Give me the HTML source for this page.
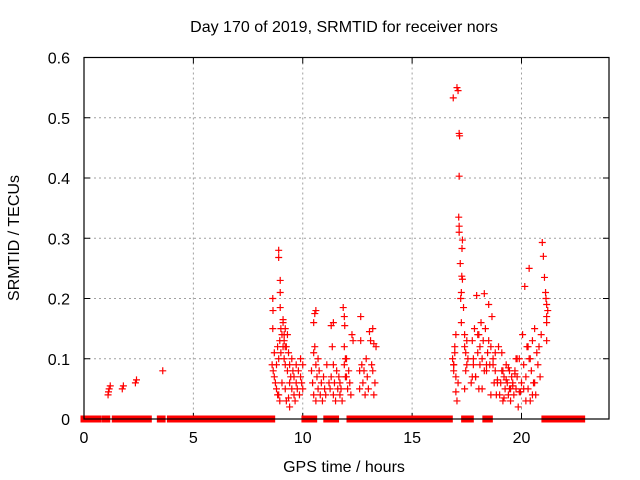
<!DOCTYPE html>
<html><head><meta charset="utf-8"><style>
body{margin:0;background:#fff}
svg{display:block;font-family:"Liberation Sans",sans-serif}
</style></head><body>
<svg id="c" width="640" height="480" xmlns="http://www.w3.org/2000/svg">
<text x="344" y="32" text-anchor="middle" font-size="16">Day 170 of 2019, SRMTID for receiver nors</text>
<text x="344" y="472" text-anchor="middle" font-size="16">GPS time / hours</text>
<text transform="translate(19,238) rotate(-90)" text-anchor="middle" font-size="16">SRMTID / TECUs</text>
<g id="grid"></g><g id="ticks"></g><g id="marks"></g>
<rect x="84" y="57.5" width="525" height="361.5" fill="none" stroke="#000" stroke-width="1.2"/>
</svg>
<script>
const xTicks=[0,5,10,15,20];
const yTicks=[0,0.1,0.2,0.3,0.4,0.5,0.6];
const yTickLabels=["0","0.1","0.2","0.3","0.4","0.5","0.6"];
const zeroRanges=[[0,0.02],[0.3,0.38],[0.55,0.63],[0.96,1.04],[1.43,1.8],[2.0,2.2],[2.27,2.35],[2.53,2.61],[2.86,2.94],[3.49,3.57],[3.95,4.29],[4.46,4.96],[5.05,8.58],[10.1,10.5],[11.1,11.5],[12.16,12.45],[12.5,13.0],[13.1,16.7],[17.4,17.66],[18.37,18.53],[21.07,22.75]];
const hours=[1.1,1.12,1.15,1.2,1.75,1.8,2.35,2.4,3.6,
8.6,8.65,8.7,8.7,8.75,8.8,8.8,8.85,8.85,8.9,8.95,9.0,9.0,9.05,9.1,9.1,9.15,9.15,9.2,9.2,9.25,9.3,9.3,9.35,9.4,9.4,9.45,9.5,9.5,9.55,9.6,9.6,9.65,9.7,9.7,9.75,9.8,9.85,9.9,9.9,9.95,10.0,10.0,9.4,9.35,8.9,8.95,9.05,9.2,9.25,
8.9,8.9,8.97,8.63,8.97,8.64,8.97,8.63,9.1,9.15,9.2,
10.4,10.45,10.5,10.5,10.55,10.6,10.6,10.65,10.7,10.7,10.75,10.8,10.85,10.9,10.95,11.0,11.05,11.1,11.2,11.25,11.3,11.3,11.35,11.4,11.4,11.45,11.5,11.55,11.6,11.65,11.7,11.7,11.75,11.8,11.85,11.9,11.9,11.95,12.0,12.05,12.1,12.15,12.2,12.25,12.3,10.5,10.55,10.6,11.4,11.9,11.92,11.95,12.0,
12.6,12.65,12.7,12.75,12.8,12.85,12.9,12.95,13.0,13.05,13.1,13.15,13.2,13.25,13.3,13.35,12.6,12.65,13.2,13.25,
16.85,16.9,16.9,16.95,17.0,17.0,17.05,17.1,16.9,16.95,17.0,17.05,17.1,16.88,
17.15,17.17,17.15,17.13,17.15,17.15,17.3,17.28,17.2,17.27,17.3,17.25,17.22,17.35,17.25,17.4,17.4,17.45,17.5,17.5,17.4,17.45,17.55,
17.7,17.75,17.8,17.85,17.9,17.95,18.0,18.05,18.1,18.1,18.15,18.2,18.25,18.3,18.35,18.4,18.45,18.5,18.5,18.55,18.6,18.65,18.7,18.75,18.8,18.85,18.9,18.95,17.8,17.9,18.0,18.2,18.3,18.6,18.7,18.8,18.9,17.75,18.05,18.4,
19.0,19.05,19.1,19.15,19.2,19.25,19.3,19.35,19.4,19.45,19.5,19.55,19.6,19.65,19.7,19.75,19.8,19.85,19.9,19.95,19.1,19.2,19.3,19.4,19.5,19.6,19.7,19.8,19.9,19.15,19.45,19.75,
20.0,20.05,20.1,20.15,20.2,20.25,20.3,20.35,20.4,20.45,20.5,20.55,20.6,20.65,20.7,20.75,20.8,20.85,20.9,20.95,21.0,21.05,21.1,21.15,21.15,21.15,21.12,21.15,21.2,20.3,20.35,20.5,20.4,20.6,20.1,20.2,20.7,20.9,21.0];
const values=[0.04,0.045,0.05,0.055,0.05,0.055,0.06,0.065,0.08,
0.09,0.08,0.07,0.11,0.06,0.05,0.09,0.04,0.12,0.10,0.13,0.11,0.15,0.14,0.12,0.16,0.10,0.13,0.15,0.09,0.12,0.14,0.08,0.11,0.06,0.09,0.07,0.05,0.10,0.08,0.04,0.07,0.03,0.06,0.09,0.05,0.08,0.04,0.07,0.10,0.06,0.09,0.05,0.02,0.035,0.04,0.03,0.06,0.05,0.03,
0.28,0.268,0.23,0.2,0.21,0.18,0.185,0.15,0.165,0.14,0.12,
0.08,0.06,0.16,0.04,0.12,0.09,0.03,0.07,0.10,0.05,0.08,0.04,0.06,0.03,0.07,0.05,0.04,0.09,0.06,0.05,0.155,0.07,0.12,0.04,0.09,0.06,0.03,0.08,0.05,0.07,0.04,0.06,0.05,0.03,0.185,0.09,0.12,0.07,0.10,0.05,0.08,0.06,0.04,0.14,0.13,0.11,0.175,0.18,0.16,0.17,
0.155,0.10,0.07,0.05,0.13,0.09,0.06,0.08,0.04,0.10,0.07,0.05,0.145,0.13,0.09,0.08,0.04,0.06,0.12,0.08,
0.17,0.15,0.125,0.10,0.09,0.08,0.11,0.07,0.045,0.03,0.06,0.09,0.12,0.14,
0.55,0.545,0.533,0.474,0.47,0.403,0.335,0.32,0.31,0.297,0.283,0.258,0.237,0.232,0.21,0.2,0.185,0.16,0.14,0.12,0.11,0.09,0.13,
0.05,0.08,0.10,0.06,0.13,0.09,0.15,0.07,0.205,0.11,0.14,0.12,0.09,0.16,0.10,0.13,0.208,0.15,0.08,0.11,0.13,0.19,0.09,0.12,0.17,0.10,0.06,0.08,0.04,0.06,0.12,0.10,0.07,0.14,0.05,0.08,0.04,0.09,0.11,0.065,
0.07,0.05,0.09,0.04,0.06,0.08,0.03,0.07,0.05,0.09,0.06,0.04,0.08,0.05,0.07,0.06,0.04,0.08,0.05,0.07,0.02,0.1,0.045,0.11,0.035,0.065,0.085,0.03,0.055,0.075,0.1,0.045,
0.08,0.05,0.10,0.06,0.14,0.09,0.22,0.07,0.12,0.05,0.25,0.10,0.08,0.13,0.06,0.15,0.04,0.11,0.09,0.12,0.07,0.14,0.293,0.27,0.235,0.21,0.19,0.17,0.13,0.2,0.16,0.18,0.12,0.1,0.04,0.03,0.06,0.05,0.03];
const X0=84,X1=609,Y0=419,Y1=57.5;
const sx=h=>X0+h/24*(X1-X0), sy=v=>Y0-v/0.6*(Y0-Y1);
const NS="http://www.w3.org/2000/svg";
function mk(tag,attrs,parent){const e=document.createElementNS(NS,tag);for(const k in attrs)e.setAttribute(k,attrs[k]);parent.appendChild(e);return e;}
const grid=document.getElementById('grid'),ticks=document.getElementById('ticks'),marks=document.getElementById('marks');
xTicks.forEach(t=>{const x=sx(t);
 if(t>0){const g=mk('line',{x1:x,x2:x,y1:Y1,y2:Y0,stroke:'#a0a0a0','stroke-dasharray':'2,3'},grid);
 
 }
 mk('line',{x1:x,x2:x,y1:Y0,y2:Y0-6,stroke:'#000'},ticks);
 mk('line',{x1:x,x2:x,y1:Y1,y2:Y1+6,stroke:'#000'},ticks);
 const l=mk('text',{x:x,y:443,'text-anchor':'middle','font-size':16},ticks);l.textContent=t;
 
 
});
yTicks.forEach((t,i)=>{const y=sy(t);
 if(t>0&&t<0.6){const g=mk('line',{x1:X0,x2:X1,y1:y,y2:y,stroke:'#a0a0a0','stroke-dasharray':'2,3'},grid);
 
 }
 mk('line',{x1:X0,x2:X0+6,y1:y,y2:y,stroke:'#000'},ticks);
 mk('line',{x1:X1,x2:X1-6,y1:y,y2:y,stroke:'#000'},ticks);
 const l=mk('text',{x:70,y:y+6,'text-anchor':'end','font-size':16},ticks);l.textContent=yTickLabels[i];
 
 
});
zeroRanges.forEach(r=>{const a=sx(r[0])-3.5,b=sx(r[1])+3.5;
 const z=mk('rect',{x:a,y:Y0-3.5,width:b-a,height:7,fill:'#ff0000'},marks);
 
 
});
hours.forEach((h,i)=>{const x=sx(h),y=sy(values[i]);
 const p=mk('path',{d:`M${x-3.5},${y}H${x+3.5}M${x},${y-3.5}V${y+3.5}`,stroke:'#ff0000','stroke-width':1.2,fill:'none'},marks);
 
 
});
</script>
</body></html>
